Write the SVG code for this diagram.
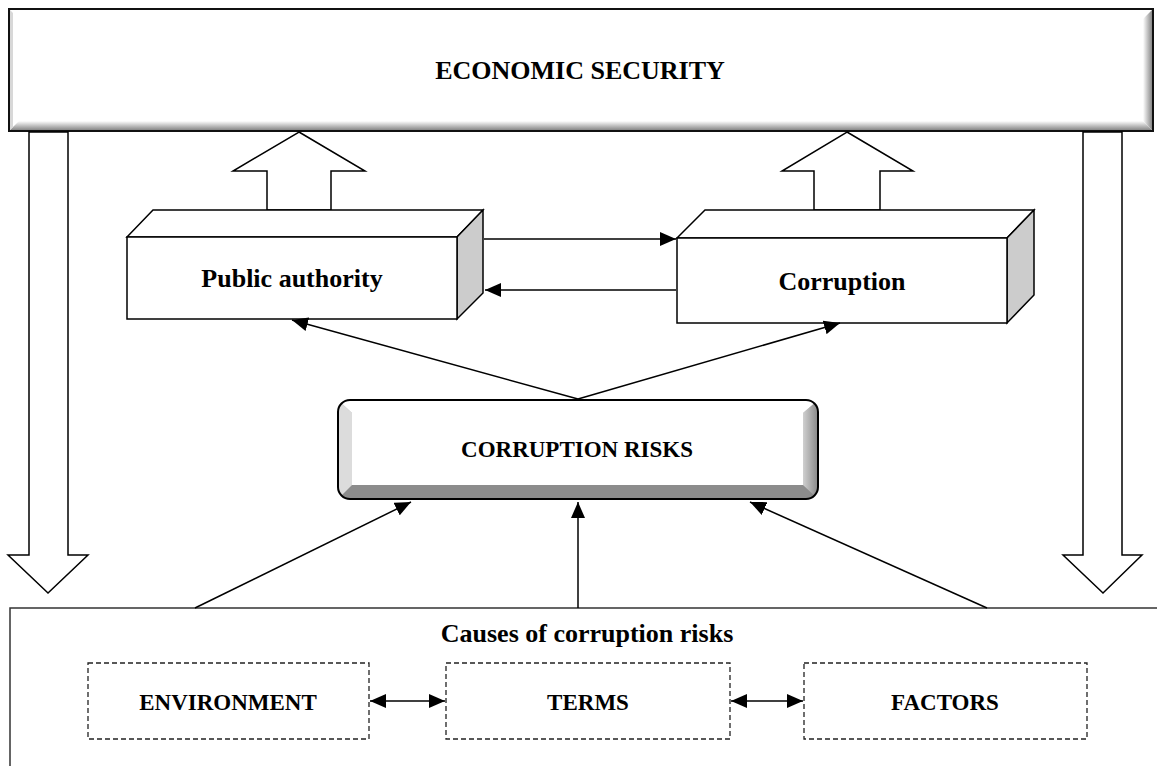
<svg xmlns="http://www.w3.org/2000/svg" width="1157" height="766" viewBox="0 0 1157 766">
<style>
  .t{font-family:"Liberation Serif","Times New Roman",serif;font-weight:bold;fill:#000;text-anchor:middle}
  .big{font-size:26px}
  .mid{font-size:23px}
  .ln{stroke:#000;stroke-width:1.5;fill:none}
  .blk{fill:#fff;stroke:#000;stroke-width:1.5;stroke-linejoin:miter}
  .dash{fill:#fff;stroke:#222;stroke-width:1.3;stroke-dasharray:5,3}
</style>
<defs>
  <marker id="ah" viewBox="0 0 16 14" refX="16" refY="7" markerWidth="16" markerHeight="14" markerUnits="userSpaceOnUse" orient="auto-start-reverse">
    <path d="M0,0 L16,7 L0,14 Z" fill="#000"/>
  </marker>
  <linearGradient id="gb" x1="0" y1="0" x2="0" y2="1">
    <stop offset="0" stop-color="#fff"/>
    <stop offset="1" stop-color="#7a7a7a"/>
  </linearGradient>
  <linearGradient id="gr" x1="0" y1="0" x2="1" y2="0">
    <stop offset="0" stop-color="#fff"/>
    <stop offset="1" stop-color="#7a7a7a"/>
  </linearGradient>
  <linearGradient id="gcr" x1="0" y1="0" x2="1" y2="0">
    <stop offset="0" stop-color="#d0d0d0"/>
    <stop offset="1" stop-color="#888"/>
  </linearGradient>
  <clipPath id="crc"><rect x="338" y="400" width="480" height="99" rx="12"/></clipPath>
</defs>

<g id="economic-security">
  <rect x="9" y="9" width="1144" height="122" fill="#fff"/>
  <polygon points="9,131 19,121 1143,121 1153,131" fill="url(#gb)"/>
  <polygon points="1153,9 1143,19 1143,121 1153,131" fill="url(#gr)"/>
  <polygon points="9,9 13,13 13,127 9,131" fill="#d8d8d8"/>
  <rect x="9" y="9" width="1144" height="122" fill="none" stroke="#111" stroke-width="2"/>
  <text class="t big" x="580" y="79">ECONOMIC SECURITY</text>
</g>

<g id="down-arrow-left">
  <polygon class="blk" points="29,132 68,132 68,555 88,555 48,593 8,555 29,555"/>
</g>
<g id="down-arrow-right">
  <polygon class="blk" points="1083,132 1122,132 1122,555 1142,555 1103,593 1063,555 1083,555"/>
</g>

<g id="up-arrow-left">
  <polygon class="blk" points="299,132 365,171 331,171 331,210 267,210 267,171 233,171"/>
</g>
<g id="up-arrow-right">
  <polygon class="blk" points="847,132 913,171 880,171 880,210 814,210 814,171 782,171"/>
</g>

<g id="public-authority">
  <polygon class="blk" points="127,237 153,210 483,210 457,237"/>
  <polygon points="457,237 483,210 483,293 457,319" fill="#cccccc" stroke="#000" stroke-width="1.5"/>
  <rect class="blk" x="127" y="237" width="330" height="82"/>
  <text class="t big" x="292" y="287">Public authority</text>
</g>

<g id="corruption">
  <polygon class="blk" points="677,238 705,210 1034,210 1007,238"/>
  <polygon points="1007,238 1034,210 1034,295 1007,323" fill="#cccccc" stroke="#000" stroke-width="1.5"/>
  <rect class="blk" x="677" y="238" width="330" height="85"/>
  <text class="t big" x="842" y="290">Corruption</text>
</g>

<g id="corruption-risks">
  <g clip-path="url(#crc)">
    <rect x="338" y="400" width="480" height="99" fill="#8c8c8c"/>
    <polygon points="338,400 352,413 352,485 338,499" fill="#dcdcdc"/>
    <polygon points="818,400 803,413 803,485 818,499" fill="url(#gcr)"/>
    <polygon points="338,400 818,400 803,413 803,485 352,485 352,413" fill="#fff"/>
  </g>
  <rect x="338" y="400" width="480" height="99" rx="12" fill="none" stroke="#000" stroke-width="2"/>
  <text class="t mid" x="577" y="457">CORRUPTION RISKS</text>
</g>

<g id="causes">
  <rect x="10" y="608" width="1170" height="200" fill="#fff" stroke="#333" stroke-width="1.5"/>
  <text class="t big" x="587" y="642">Causes of corruption risks</text>
</g>

<g id="environment">
  <rect class="dash" x="88" y="663" width="281" height="76"/>
  <text class="t mid" x="228" y="710">ENVIRONMENT</text>
</g>
<g id="terms">
  <rect class="dash" x="446" y="663" width="284" height="76"/>
  <text class="t mid" x="588" y="710">TERMS</text>
</g>
<g id="factors">
  <rect class="dash" x="804" y="663" width="283" height="76"/>
  <text class="t mid" x="945" y="710">FACTORS</text>
</g>

<g id="connectors">
  <line class="ln" x1="484" y1="239" x2="676" y2="239" marker-end="url(#ah)"/>
  <line class="ln" x1="676" y1="290" x2="485" y2="290" marker-end="url(#ah)"/>
  <line class="ln" x1="578" y1="399" x2="292" y2="320" marker-end="url(#ah)"/>
  <line class="ln" x1="578" y1="399" x2="840" y2="323" marker-end="url(#ah)"/>
  <line class="ln" x1="195" y1="608" x2="411" y2="502" marker-end="url(#ah)"/>
  <line class="ln" x1="578" y1="608" x2="578" y2="502" marker-end="url(#ah)"/>
  <line class="ln" x1="987" y1="608" x2="750" y2="502" marker-end="url(#ah)"/>
  <line class="ln" x1="370" y1="701" x2="445" y2="701" marker-start="url(#ah)" marker-end="url(#ah)"/>
  <line class="ln" x1="731" y1="701" x2="803" y2="701" marker-start="url(#ah)" marker-end="url(#ah)"/>
</g>
</svg>
